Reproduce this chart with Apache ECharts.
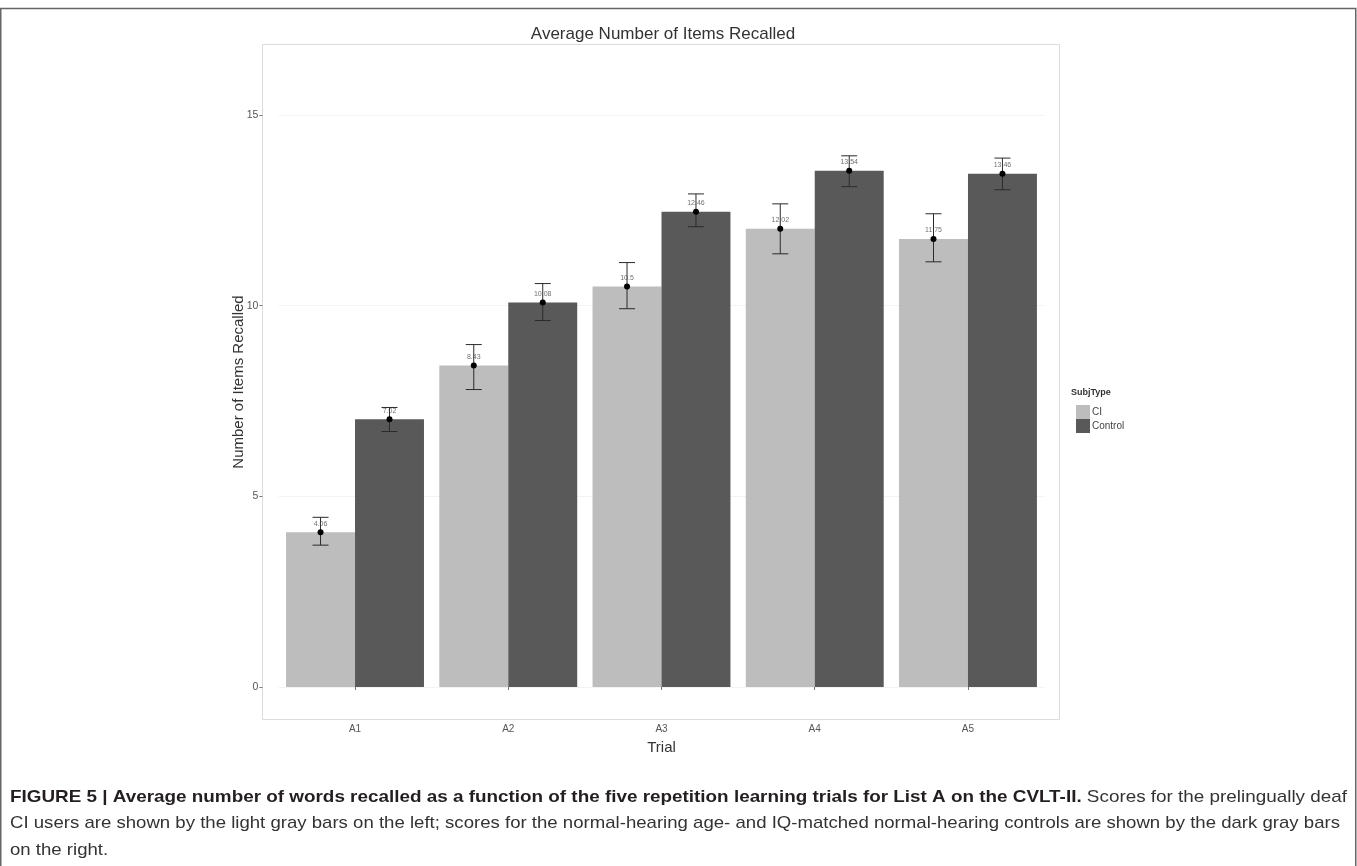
<!DOCTYPE html>
<html>
<head>
<meta charset="utf-8">
<script src="https://cdn.jsdelivr.net/npm/echarts@6/dist/echarts.min.js"></script>
<style>
html,body{margin:0;padding:0;background:#fff;}
#chart{width:1357px;height:866px;}
</style>
</head>
<body>
<div id="chart"></div>
<script>
// ---- data ----
const categories = ['A1', 'A2', 'A3', 'A4', 'A5'];
const seriesNames = ['CI', 'Control'];
const ciMean = [4.06, 8.43, 10.5, 12.02, 11.75];
const ciLow = [3.72, 7.80, 9.92, 11.36, 11.15];
const ciHigh = [4.45, 8.98, 11.13, 12.67, 12.41];
const ctrlMean = [7.02, 10.08, 12.46, 13.54, 13.46];
const ctrlLow = [6.70, 9.61, 12.07, 13.12, 13.04];
const ctrlHigh = [7.33, 10.58, 12.93, 13.93, 13.87];

const captionBold = 'FIGURE 5 | Average number of words recalled as a function of the five repetition learning trials for List A on the CVLT-II.';
const captionLines = [
  ' Scores for the prelingually deaf',
  'CI users are shown by the light gray bars on the left; scores for the normal-hearing age- and IQ-matched normal-hearing controls are shown by the dark gray bars',
  'on the right.'
];

const colors = { CI: '#bdbdbd', Control: '#595959' };
const font = '"Liberation Sans", Arial, Helvetica, sans-serif';
const capSize = 17;
const capBoldFont = 'bold ' + capSize + 'px ' + font;
const capFont = capSize + 'px ' + font;

// measure caption lines to stretch them to the reference line widths
const mctx = document.createElement('canvas').getContext('2d');
mctx.font = capBoldFont;
let w1 = mctx.measureText(captionBold).width;
mctx.font = capFont;
w1 += mctx.measureText(captionLines[0]).width;
const w2 = mctx.measureText(captionLines[1]).width;
const capScale1 = 1337 / w1;
const capScale2 = 1330 / w2;

const chart = echarts.init(document.getElementById('chart'), null, { renderer: 'canvas' });

function errorSeries(name, low, high, sign) {
  return {
    type: 'custom',
    name: name + ' err',
    z: 5,
    silent: true,
    data: categories.map((c, i) => [i, low[i], high[i]]),
    renderItem: function (params, api) {
      const band = api.size([1, 0])[0];
      const off = sign * band * 0.225;
      const lo = api.coord([api.value(0), api.value(1)]);
      const hi = api.coord([api.value(0), api.value(2)]);
      const x = lo[0] + off;
      const half = 8;
      const st = { stroke: '#2b2b2b', lineWidth: 1 };
      return {
        type: 'group',
        children: [
          { type: 'line', shape: { x1: x, y1: lo[1], x2: x, y2: hi[1] }, style: st },
          { type: 'line', shape: { x1: x - half, y1: lo[1], x2: x + half, y2: lo[1] }, style: st },
          { type: 'line', shape: { x1: x - half, y1: hi[1], x2: x + half, y2: hi[1] }, style: st }
        ]
      };
    }
  };
}

function pointSeries(name, mean, sign) {
  return {
    type: 'custom',
    name: name + ' pt',
    z: 6,
    silent: true,
    data: categories.map((c, i) => [i, mean[i]]),
    renderItem: function (params, api) {
      const band = api.size([1, 0])[0];
      const off = sign * band * 0.225;
      const p = api.coord([api.value(0), api.value(1)]);
      return {
        type: 'group',
        children: [
          { type: 'circle', shape: { cx: p[0] + off, cy: p[1], r: 3 }, style: { fill: '#000' } },
          { type: 'text', x: p[0] + off, y: p[1] - 5,
            style: { text: String(api.value(1)), fill: 'rgba(60,60,60,0.75)', font: '7px ' + font, align: 'center', verticalAlign: 'bottom' } }
        ]
      };
    }
  };
}

const option = {
  backgroundColor: '#fff',
  animation: false,
  title: {
    text: 'Average Number of Items Recalled',
    left: 658, top: 21, textAlign: 'center',
    textStyle: { fontFamily: font, fontSize: 17, fontWeight: 'normal', color: '#333' }
  },
  legend: {
    orient: 'vertical', left: 1071, top: 400,
    itemWidth: 14, itemHeight: 14, itemGap: 0,
    icon: 'rect',
    data: seriesNames,
    textStyle: { fontFamily: font, fontSize: 10, color: '#444', padding: [0, 0, 0, -3] }
  },
  grid: { left: 278.4, right: 312.4, top: 115, bottom: 179, containLabel: false },
  xAxis: {
    type: 'category',
    data: categories,
    offset: 33,
    axisLine: { show: false },
    axisTick: { show: true, alignWithLabel: true, length: 3, lineStyle: { color: '#777' } },
    axisLabel: { fontFamily: font, fontSize: 10, color: '#555', margin: 4 },
    name: 'Trial', nameLocation: 'middle', nameGap: 20,
    nameTextStyle: { fontFamily: font, fontSize: 15, color: '#333' },
    splitLine: { show: false }
  },
  yAxis: {
    type: 'value',
    min: 0, max: 15, interval: 5,
    offset: 16,
    axisLine: { show: false },
    axisTick: { show: true, length: 3, lineStyle: { color: '#777' } },
    axisLabel: { fontFamily: font, fontSize: 10.5, color: '#555', margin: 4 },
    splitLine: { show: true, lineStyle: { color: '#f3f3f3', width: 1 } }
  },
  graphic: [
    { type: 'rect', z: -10, shape: { x: 262.5, y: 44.5, width: 797, height: 675 },
      style: { fill: '#fff', stroke: '#dcdcdc', lineWidth: 1 } },
    { type: 'text', x: 239, y: 382, rotation: Math.PI / 2,
      style: { text: 'Number of Items Recalled', font: '15px ' + font, fill: '#333', align: 'center', verticalAlign: 'middle' } },
    { type: 'text', x: 1071, y: 393,
      style: { text: 'SubjType', font: 'bold 9px ' + font, fill: '#333', verticalAlign: 'middle' } },
    { type: 'rect', z: 20, shape: { x: 0.75, y: 8.5, width: 1355, height: 870 },
      style: { fill: 'none', stroke: '#666', lineWidth: 1.5 } },
    { type: 'text', x: 10, y: 797, scaleX: capScale1,
      style: {
        text: '{b|' + captionBold + '}{r|' + captionLines[0] + '}',
        verticalAlign: 'middle',
        rich: {
          b: { font: capBoldFont, fill: '#231f20' },
          r: { font: capFont, fill: '#333' }
        }
      } },
    { type: 'text', x: 10, y: 823, scaleX: capScale2,
      style: { text: captionLines[1], font: capFont, fill: '#333', verticalAlign: 'middle' } },
    { type: 'text', x: 10, y: 850, scaleX: capScale2,
      style: { text: captionLines[2], font: capFont, fill: '#333', verticalAlign: 'middle' } }
  ],
  series: [
    { type: 'bar', name: 'CI', data: ciMean, barGap: '0%', barCategoryGap: '10%',
      itemStyle: { color: colors.CI }, z: 2 },
    { type: 'bar', name: 'Control', data: ctrlMean, barGap: '0%', barCategoryGap: '10%',
      itemStyle: { color: colors.Control }, z: 2 },
    errorSeries('CI', ciLow, ciHigh, -1),
    errorSeries('Control', ctrlLow, ctrlHigh, 1),
    pointSeries('CI', ciMean, -1),
    pointSeries('Control', ctrlMean, 1)
  ]
};
chart.setOption(option);
</script>
</body>
</html>
